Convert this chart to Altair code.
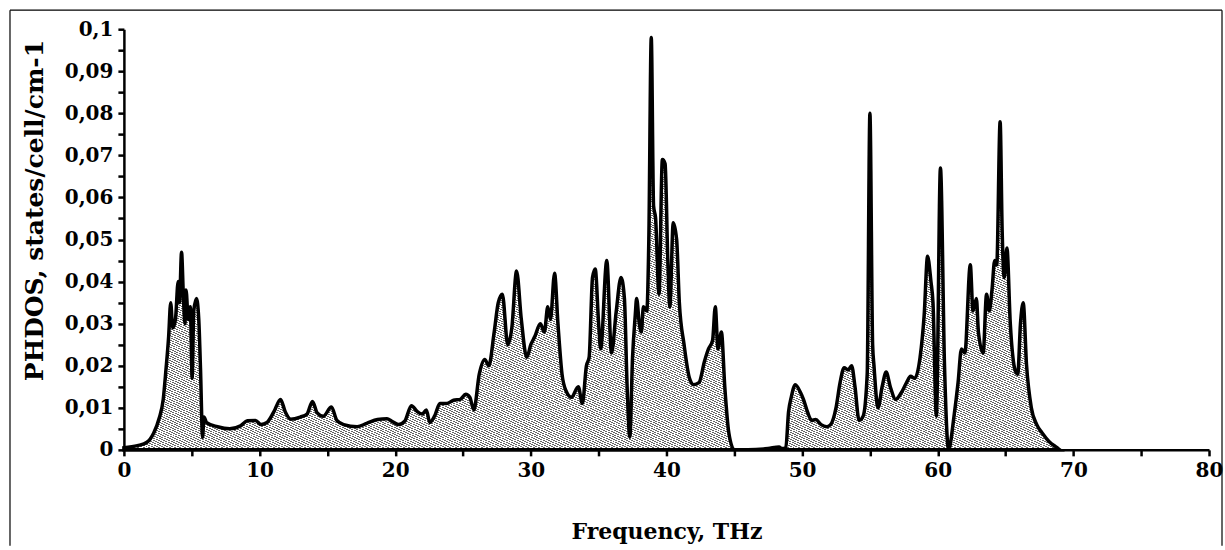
import altair as alt
import pandas as pd

# Frequency (THz) and PHDOS (states/cell/cm-1)
freq = [0, 1, 1.7, 2.2, 2.6, 2.9, 3.1, 3.3, 3.45, 3.6, 3.8, 4.0, 4.1, 4.25, 4.38, 4.5, 4.58, 4.75,
        4.9, 5.03, 5.15, 5.35, 5.52, 5.65, 5.8, 5.9, 6.1, 6.9, 7.8, 8.6, 9.1, 9.7, 10.1, 10.55,
        11.05, 11.55, 11.9, 12.3, 13.0, 13.5, 13.9, 14.25, 14.7, 15.3, 15.7, 16.2, 17.2, 17.9,
        18.7, 19.4, 19.75, 20.25, 20.7, 21.2, 21.6, 22.0, 22.3, 22.55, 22.9, 23.3, 23.8, 24.3,
        24.8, 25.2, 25.5, 25.8, 26.2, 26.6, 26.9, 27.3, 27.6, 27.9, 28.3, 28.6, 28.95, 29.3,
        29.7, 30.0, 30.3, 30.7, 31.0, 31.25, 31.45, 31.75, 32.0, 32.3, 32.6, 33.0, 33.5, 33.8,
        34.1, 34.3, 34.55, 34.75, 35.0, 35.15, 35.6, 35.95, 36.3, 36.65, 36.9, 37.1, 37.3, 37.5,
        37.7, 37.8, 38.0, 38.15, 38.3, 38.55, 38.7, 38.88, 39.05, 39.2, 39.45, 39.7, 39.9, 40.1,
        40.25, 40.5, 40.75, 40.95, 41.3, 41.7, 42.0, 42.4, 42.8, 43.1, 43.4, 43.6, 43.8, 44.05,
        44.3, 44.6, 45.0, 46.0, 47.5, 48.3, 48.5, 48.8, 49.0, 49.2, 49.5, 49.9, 50.1, 50.4, 50.7,
        51.0, 51.4, 51.8, 52.1, 52.5, 52.8, 53.1, 53.4, 53.65, 53.9, 54.2, 54.5, 54.8, 55.0,
        55.2, 55.3, 55.6, 55.9, 56.2, 56.5, 56.9, 57.3, 57.7, 58.0, 58.3, 58.7, 59.0, 59.25,
        59.5, 59.65, 59.9, 60.2, 60.5, 60.8, 61.2, 61.5, 61.75, 62.0, 62.4, 62.6, 62.85, 63.0,
        63.35, 63.6, 63.8, 64.0, 64.2, 64.35, 64.6, 64.75, 64.9, 65.1, 65.35, 65.7, 65.9, 66.1,
        66.3, 66.55, 66.9, 67.3, 67.7, 68.2, 68.8, 69.0]
phdos = [0.0005, 0.001, 0.0018, 0.004, 0.0075, 0.012, 0.019, 0.027, 0.035, 0.029, 0.031, 0.040,
         0.035, 0.047, 0.037, 0.030, 0.038, 0.031, 0.034, 0.017, 0.033, 0.036, 0.031, 0.019,
         0.003, 0.0078, 0.0065, 0.0055, 0.005, 0.0057, 0.0069, 0.007, 0.006, 0.0065, 0.009,
         0.012, 0.009, 0.0073, 0.0078, 0.0085, 0.0115, 0.0088, 0.008, 0.0102, 0.007, 0.006,
         0.0055, 0.0063, 0.0072, 0.0074, 0.0068, 0.006, 0.0068, 0.0105, 0.0092, 0.0085, 0.0095,
         0.0065, 0.008, 0.011, 0.011, 0.0118, 0.012, 0.0132, 0.0125, 0.0095, 0.018, 0.0215,
         0.020, 0.028, 0.035, 0.037, 0.025, 0.029, 0.0425, 0.031, 0.022, 0.025, 0.027, 0.030,
         0.028, 0.034, 0.031, 0.042, 0.030, 0.018, 0.014, 0.0125, 0.015, 0.011, 0.020, 0.022,
         0.041, 0.043, 0.030, 0.024, 0.045, 0.023, 0.033, 0.041, 0.036, 0.015, 0.003, 0.022,
         0.032, 0.036, 0.030, 0.028, 0.034, 0.033, 0.050, 0.098, 0.058, 0.055, 0.037, 0.069,
         0.068, 0.045, 0.034, 0.054, 0.050, 0.035, 0.025, 0.017, 0.0155, 0.016, 0.021, 0.024,
         0.026, 0.034, 0.024, 0.028, 0.015, 0.004, 0.0, 0.0, 0.0003, 0.0007, 0.0003, 0.0005,
         0.009, 0.0125, 0.0155, 0.0135, 0.012, 0.009, 0.007, 0.0072, 0.006, 0.0055, 0.006, 0.010,
         0.016, 0.0195, 0.019, 0.020, 0.015, 0.007, 0.008, 0.018, 0.080, 0.025, 0.020, 0.010,
         0.015, 0.0185, 0.015, 0.012, 0.0135, 0.016, 0.0175, 0.017, 0.022, 0.032, 0.046, 0.040,
         0.035, 0.008, 0.067, 0.020, 0.0, 0.008, 0.016, 0.024, 0.023, 0.044, 0.033, 0.036, 0.028,
         0.023, 0.037, 0.033, 0.038, 0.045, 0.044, 0.078, 0.052, 0.041, 0.048, 0.030, 0.019,
         0.018, 0.030, 0.035, 0.020, 0.010, 0.006, 0.004, 0.002, 0.0005, 0.0]

x_tick_values = list(range(0, 81, 5))
y_tick_values = [round(i * 0.005, 3) for i in range(21)]

df = pd.DataFrame({"freq": freq, "phdos": phdos})

FONT = "DejaVu Serif"

# diagonal hatch built from a striped linear gradient
n_stripes = 360
stops = []
for i in range(n_stripes):
    t0 = i / n_stripes
    t1 = (i + 1) / n_stripes
    tm = t0 + 0.62 * (t1 - t0)
    stops += [
        {"offset": t0, "color": "#ffffff"},
        {"offset": tm, "color": "#ffffff"},
        {"offset": tm, "color": "#666666"},
        {"offset": t1, "color": "#666666"},
    ]
hatch = {"gradient": "linear", "x1": 0, "y1": 1, "x2": 1, "y2": 0, "stops": stops}

x_enc = alt.X(
    "freq:Q",
    scale=alt.Scale(domain=[0, 80], nice=False),
    axis=alt.Axis(
        title="Frequency, THz",
        values=x_tick_values,
        labelExpr="datum.value % 10 == 0 ? datum.label : ''",
        grid=False,
        domainColor="black", domainWidth=2.5,
        tickColor="black", tickWidth=2.5, tickSize=6,
        labelFont=FONT, labelFontSize=20, labelFontWeight="bold", labelColor="black",
        labelPadding=5, labelFlush=False,
        titleFont=FONT, titleFontSize=22, titleFontWeight="bold", titleColor="black",
        titleY=82, titleBaseline="middle",
    ),
)
y_enc = alt.Y(
    "phdos:Q",
    scale=alt.Scale(domain=[0, 0.1], nice=False),
    axis=alt.Axis(
        title="PHDOS, states/cell/cm-1",
        values=y_tick_values,
        labelExpr="round(datum.value * 1000) % 10 == 0 ? replace(format(datum.value, '.2~f'), '.', ',') : ''",
        grid=False,
        domainColor="black", domainWidth=2.5,
        tickColor="black", tickWidth=2.5, tickSize=6,
        labelFont=FONT, labelFontSize=20, labelFontWeight="bold", labelColor="black",
        labelPadding=5, labelFlush=False,
        titleFont=FONT, titleFontSize=25, titleFontWeight="bold", titleColor="black",
        titleX=-89, titleY=181, titleAngle=-90, titleBaseline="middle", titleAlign="center",
    ),
)

area = alt.Chart(df).mark_area(
    interpolate="monotone", fill=hatch, stroke="black", strokeWidth=3.5, opacity=1
).encode(x=x_enc, y=y_enc)

frame_data = pd.DataFrame({"k": [0]})
frame_left = alt.Chart(frame_data).mark_rule(color="black", strokeWidth=1.2).encode(
    x=alt.value(-114), y=alt.value(-19), y2=alt.value(517))
frame_right = alt.Chart(frame_data).mark_rule(color="black", strokeWidth=1.2).encode(
    x=alt.value(1099), y=alt.value(-19), y2=alt.value(517))
frame_top = alt.Chart(frame_data).mark_rule(color="black", strokeWidth=1.2).encode(
    x=alt.value(-114), x2=alt.value(1099), y=alt.value(-19))

chart = alt.layer(area, frame_left, frame_right, frame_top).properties(
    width=1086, height=421,
    padding={"left": 9, "top": 9, "right": 2, "bottom": 0},
    background="white",
).configure_view(stroke=None)

chart.save("out.html", embed_options={"renderer": "svg", "actions": False})
